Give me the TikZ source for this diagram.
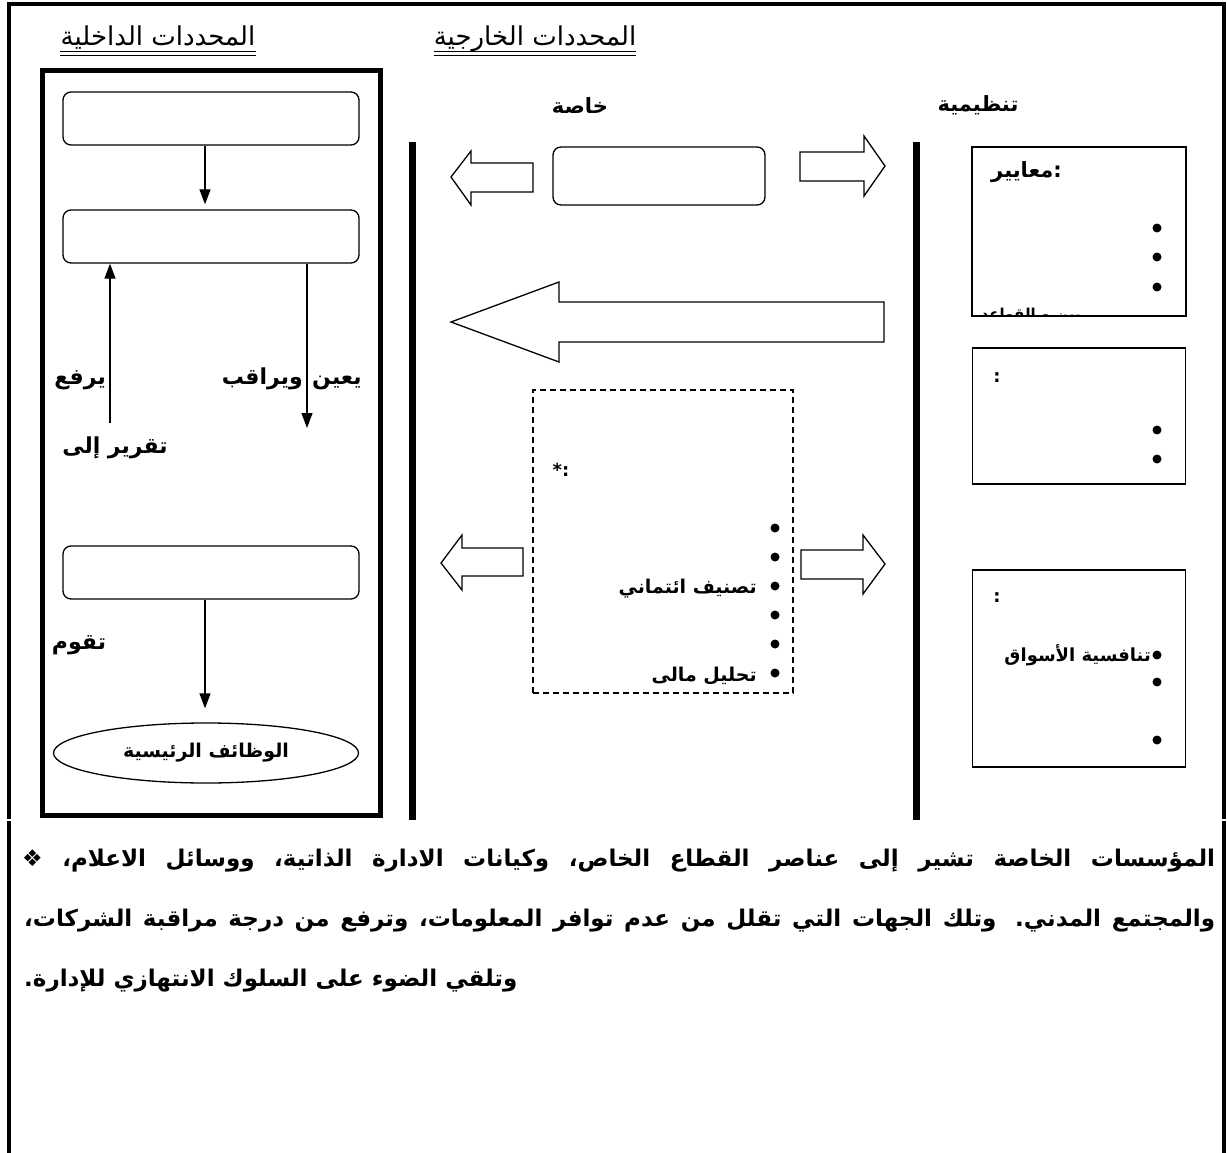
\documentclass[tikz,border=0pt]{standalone}
\usepackage{fontspec}
\usetikzlibrary{arrows.meta,shapes.geometric}
\newfontfamily\arfont[Script=Arabic]{DejaVu Sans}
\TeXXeTstate=1
\newcommand\fsz[1]{\fontsize{#1}{#1}\selectfont}
\newcommand\rl[1]{\beginR #1\endR}
\begin{document}
\begin{tikzpicture}[x=1pt,y=-1pt,
  frameline/.style={line width=4pt},
  rrect/.style={draw, line width=1.3pt, rounded corners=8pt, inner sep=0pt},
  sqbox/.style={draw, line width=1.5pt, inner sep=0pt},
  lbl/.style={inner sep=0pt, font=\arfont\bfseries\fsz{22}},
  small/.style={inner sep=0pt, font=\arfont\bfseries\fsz{18}},
  head/.style={inner sep=0pt, font=\arfont\fsz{26}},
  body/.style={inner sep=0pt, font=\arfont\bfseries\fsz{23}},
  blt/.style={circle, fill, inner sep=0pt, minimum size=9pt},
  conn/.style={line width=1.3pt, -{Triangle[length=15pt,width=11pt]}},
  bar/.style={line width=7pt},
  blockarrow/.style={line width=1.3pt, line join=miter}]

\useasboundingbox (0,0) rectangle (1227,1153);
\fill[white] (0,0) rectangle (1227,1153);

% outer frame
\draw[frameline] (7,4.5) -- (1226,4.5);
\draw[frameline] (9,2.5) -- (9,819);
\draw[frameline] (9,821) -- (9,1153);
\draw[frameline] (1224,2.5) -- (1224,819);
\draw[frameline] (1224,821) -- (1224,1153);

% headers
\node[head, anchor=base] (hin) at (158,46) {\rl{المحددات الداخلية}};
\node[head, anchor=base] (hex) at (535,46) {\rl{المحددات الخارجية}};
\draw[line width=0.9pt] ([yshift=-5.5pt]hin.base west) -- ([yshift=-5.5pt]hin.base east);
\draw[line width=0.9pt] ([yshift=-9pt]hin.base west) -- ([yshift=-9pt]hin.base east);
\draw[line width=0.9pt] ([yshift=-5.5pt]hex.base west) -- ([yshift=-5.5pt]hex.base east);
\draw[line width=0.9pt] ([yshift=-9pt]hex.base west) -- ([yshift=-9pt]hex.base east);

% left (internal) box
\node[draw, line width=5pt, minimum width=338pt, minimum height=744pt, inner sep=0pt] (lbox) at (211,443) {};
\node[rrect, minimum width=296pt, minimum height=53pt] (rr1) at (211,118.5) {};
\node[rrect, minimum width=296pt, minimum height=53pt] (rr2) at (211,236.5) {};
\node[rrect, minimum width=296pt, minimum height=53pt] (rr3) at (211,572.5) {};
\node[draw, ellipse, line width=1.3pt, minimum width=305pt, minimum height=60pt, inner sep=0pt,
      font=\arfont\bfseries\fsz{19}] (ell) at (206,753) {\rl{الوظائف الرئيسية}};

\coordinate (c1) at (205,0);
\draw[conn, shorten >=5pt] (c1 |- rr1.south) -- (c1 |- rr2.north);
\coordinate (upfoot) at (110,423);
\draw[conn] (upfoot) -- (upfoot |- rr2.south);
\coordinate (dnend) at (307,428);
\draw[conn] (dnend |- rr2.south) -- (dnend);
\draw[conn, shorten >=14pt] (c1 |- rr3.south) -- (c1 |- ell.north);

\node[lbl, anchor=base east] (yarfa) at (106,384) {يرفع};
\node[lbl, anchor=base west] (yuayyin) at (312,384) {يعين};
\node[lbl, anchor=base east] (yuraqib) at (303,384) {ويراقب};
\node[lbl, anchor=base] (taqrir) at (115,453) {\rl{تقرير إلى}};
\node[lbl, anchor=base] (taqum) at (79,649) {تقوم};

% vertical bars
\draw[bar] (412,142) -- (412,820);
\draw[bar] (916,142) -- (916,820);

% column titles
\node[lbl, font=\arfont\bfseries\fsz{21}] (khassa) at (580,106) {خاصة};
\node[lbl, font=\arfont\bfseries\fsz{21}] (tanz) at (978,105) {تنظيمية};

% middle top rounded box and block arrows
\node[rrect, minimum width=212pt, minimum height=58pt] (mr) at (659,176) {};
\draw[blockarrow] (451,177) -- (471,151) -- (471,163) -- (533,163) -- (533,192) -- (471,192) -- (471,205) -- cycle;
\draw[blockarrow] (885,166) -- (864,136) -- (864,152) -- (800,152) -- (800,181) -- (864,181) -- (864,196) -- cycle;
\draw[blockarrow] (451,322) -- (559,282) -- (559,302) -- (884,302) -- (884,342) -- (559,342) -- (559,362) -- cycle;
\draw[blockarrow] (441,563) -- (462,535) -- (462,548) -- (523,548) -- (523,576) -- (462,576) -- (462,590) -- cycle;
\draw[blockarrow] (885,564) -- (863,535) -- (863,550) -- (801,550) -- (801,579) -- (863,579) -- (863,594) -- cycle;

% dashed box
\node[draw, line width=1.3pt, dash pattern=on 6pt off 4pt, minimum width=260pt, minimum height=303pt, inner sep=0pt] (dbox) at (663,541.5) {};
\node[small] (star) at (561,470) {:*};
\foreach \yy [count=\i] in {528,557,586,615,644,673} {
  \node[blt] (db\i) at (775,\yy) {};
}
\node[small, font=\arfont\bfseries\fsz{19}, anchor=base east] (tasnif) at (757,593) {\rl{تصنيف ائتماني}};
\node[small, font=\arfont\bfseries\fsz{19}, anchor=base east] (tahlil) at (757,681) {\rl{تحليل مالى}};

% right boxes
\node[sqbox, minimum width=214pt, minimum height=169pt] (bA) at (1079,231.5) {};
\node[sqbox, minimum width=213pt, minimum height=136pt] (bB) at (1079,416) {};
\node[sqbox, minimum width=213pt, minimum height=197pt] (bC) at (1079,668.5) {};

\node[small, font=\arfont\bfseries\fsz{21}, anchor=base west] (maayir) at (991,178) {معايير\kern0pt:};
\node[blt] (bA1) at (1157,228) {};
\node[blt] (bA2) at (1157,257) {};
\node[blt] (bA3) at (1157,287) {};
\begin{scope}
  \clip (975,150) rectangle (1183,314.5);
  \node[small, font=\arfont\bfseries\fsz{15}, anchor=base east] (cut) at (1081,319) {\rl{بين و القواعد}};
\end{scope}

\node[small] (colB) at (997,378) {:};
\node[blt] (bB1) at (1157,430) {};
\node[blt] (bB2) at (1157,459) {};

\node[small] (colC) at (997,598) {:};
\node[blt] (bC1) at (1157,655) {};
\node[small, anchor=base east] (tanaf) at (1151,661) {\rl{تنافسية الأسواق}};
\node[blt] (bC2) at (1157,682) {};
\node[blt] (bC3) at (1157,740) {};

% bottom paragraph
\node[body, anchor=base west] (p1) at (22,866) {\hbox to 1193pt{❖ \beginR المؤسسات الخاصة تشير إلى عناصر القطاع الخاص، وكيانات الادارة الذاتية، ووسائل الاعلام،\endR}};
\node[body, anchor=base west] (p2) at (24,926) {\hbox to 1191pt{\beginR والمجتمع المدني. وتلك الجهات التي تقلل من عدم توافر المعلومات، وترفع من درجة مراقبة الشركات،\endR}};
\node[body, anchor=base west] (p3) at (24,986) {\rl{وتلقي الضوء على السلوك الانتهازي للإدارة.}};
\end{tikzpicture}
\end{document}
